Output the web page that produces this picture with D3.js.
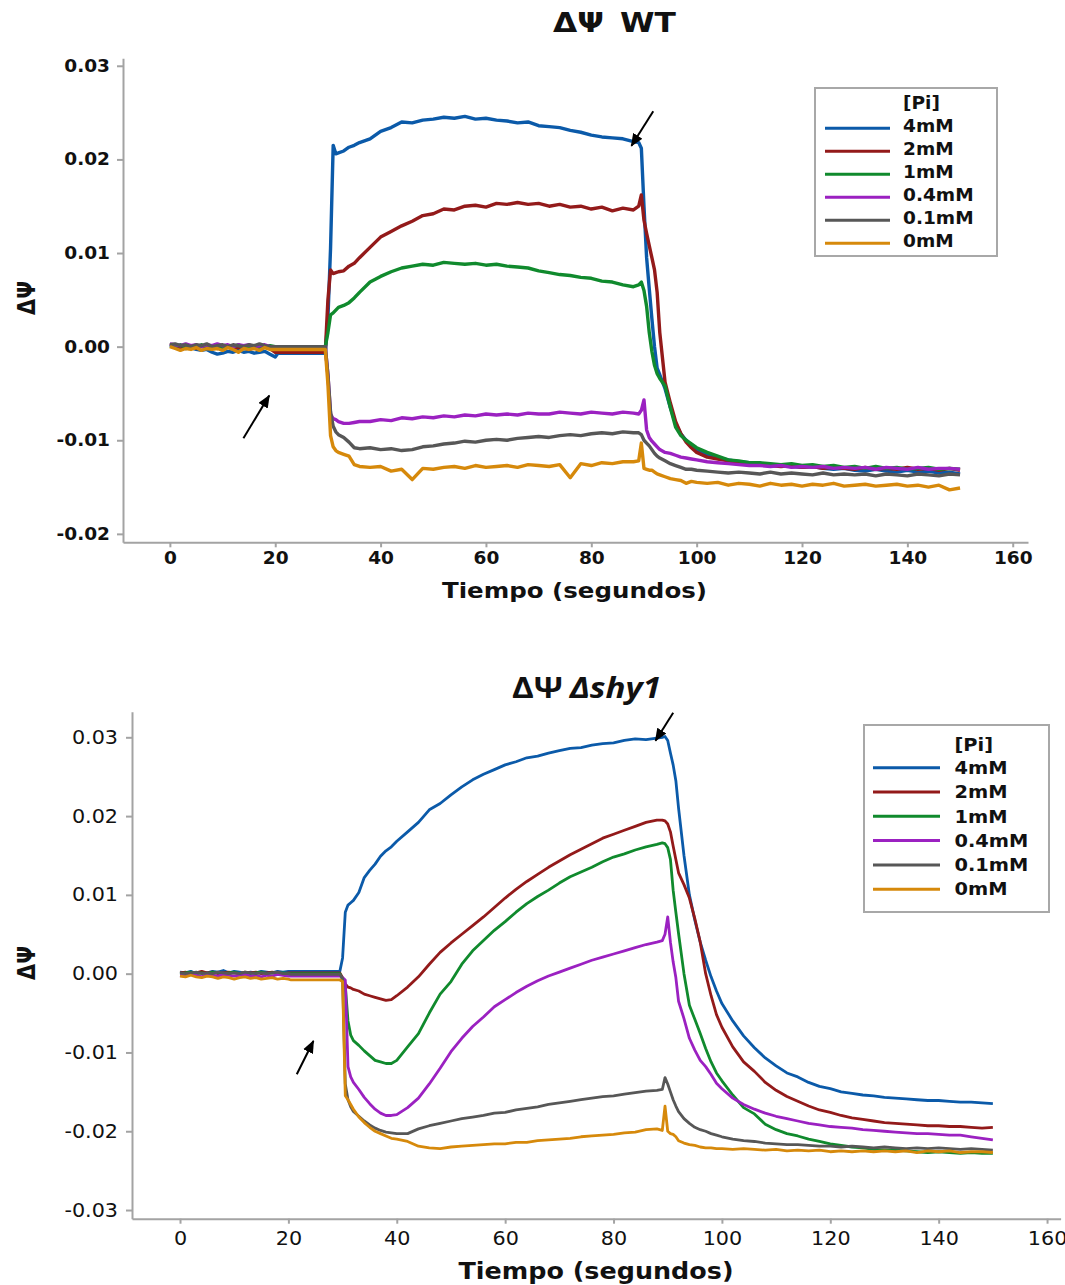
<!DOCTYPE html>
<html lang="es">
<head>
<meta charset="utf-8">
<style>
  body { margin: 0; background: #fff; }
</style>
</head>
<body>
<script src="https://d3js.org/d3.v7.min.js"></script>
<script>
// ---- data ----
var conc = ["4mM", "2mM", "1mM", "0.4mM", "0.1mM", "0mM"];
var colors = ["#0b5aa9", "#931a1a", "#108a2d", "#9b21c1", "#575757", "#d6890b"];
var xTicks = [0, 20, 40, 60, 80, 100, 120, 140, 160];
var yTicksWT = [-0.02, -0.01, 0, 0.01, 0.02, 0.03];
var yTicksShy = [-0.03, -0.02, -0.01, 0, 0.01, 0.02, 0.03];

// WT, time in seconds
var timeWT = [
  0,1,2,3,4,5,6,7,8,9,10,11,12,13,14,15,16,17,18,19,20,
  20.5,
  29.5,30,30.5,31,31.5,32,
  33,34,35,36,
  38,40,42,44,46,48,50,52,54,56,58,60,62,64,66,68,70,72,74,76,78,80,82,84,86,88,
  89,89.5,90,90.5,91,91.5,92,92.5,93,
  94,95,96,97,98,99,100,
  102,104,106,108,110,112,114,116,118,120,122,124,126,128,130,132,134,136,138,140,142,144,146,148,150
];
var wt4 = [
  0.0002,0.0000,-0.0001,-0.0002,-0.0001,-0.0003,-0.0004,-0.0003,-0.0006,-0.0008,-0.0007,-0.0005,-0.0006,-0.0004,-0.0006,-0.0005,-0.0007,-0.0006,-0.0005,-0.0008,-0.0011,
  -0.0007,
  -0.0007,0.0030,0.0105,0.0215,0.0206,0.0207,
  0.0209,0.0213,0.0215,0.0218,
  0.0222,0.0230,0.0234,0.0240,0.0239,0.0242,0.0243,0.0245,0.0244,0.0246,0.0243,0.0244,0.0242,0.0241,0.0239,0.0240,0.0236,0.0235,0.0234,0.0231,0.0229,0.0226,0.0224,0.0223,0.0222,0.0219,
  0.0218,0.0212,0.0150,0.0095,0.0062,0.0030,0.0000,-0.0023,-0.0030,
  -0.0045,-0.0065,-0.0082,-0.0093,-0.0100,-0.0106,-0.0110,
  -0.0116,-0.0119,-0.0121,-0.0123,-0.0124,-0.0126,-0.0127,-0.0127,-0.0128,-0.0129,-0.0128,-0.0130,-0.0131,-0.0130,-0.0132,-0.0133,-0.0131,-0.0133,-0.0134,-0.0132,-0.0134,-0.0133,-0.0135,-0.0134,-0.0136
];
var wt2 = [
  0.0001,0.0002,-0.0001,0.0001,0.0000,-0.0002,0.0001,-0.0001,0.0000,-0.0002,-0.0001,0.0001,-0.0002,-0.0001,0.0000,-0.0003,-0.0001,-0.0002,0.0000,-0.0002,-0.0006,
  -0.0006,
  -0.0006,0.0050,0.0082,0.0078,0.0079,0.0080,
  0.0081,0.0086,0.0089,0.0095,
  0.0106,0.0117,0.0123,0.0129,0.0134,0.0140,0.0142,0.0147,0.0146,0.0150,0.0151,0.0149,0.0153,0.0152,0.0154,0.0152,0.0153,0.0150,0.0152,0.0149,0.0150,0.0147,0.0149,0.0145,0.0148,0.0146,
  0.0150,0.0162,0.0135,0.0121,0.0108,0.0095,0.0082,0.0058,0.0015,
  -0.0038,-0.0060,-0.0080,-0.0093,-0.0102,-0.0108,-0.0113,
  -0.0118,-0.0120,-0.0122,-0.0124,-0.0125,-0.0126,-0.0127,-0.0128,-0.0127,-0.0129,-0.0128,-0.0130,-0.0129,-0.0130,-0.0131,-0.0129,-0.0131,-0.0130,-0.0131,-0.0129,-0.0131,-0.0130,-0.0132,-0.0130,-0.0132
];
var wt1 = [
  0.0001,0.0000,0.0002,-0.0001,0.0001,0.0000,0.0002,-0.0001,0.0001,0.0000,-0.0001,0.0001,0.0000,0.0002,-0.0001,0.0000,0.0001,-0.0001,0.0000,0.0001,0.0000,
  0.0000,
  0.0000,0.0015,0.0034,0.0036,0.0039,0.0042,
  0.0044,0.0047,0.0052,0.0058,
  0.0069,0.0075,0.0080,0.0084,0.0086,0.0088,0.0087,0.0090,0.0089,0.0088,0.0089,0.0087,0.0088,0.0086,0.0085,0.0084,0.0081,0.0079,0.0077,0.0076,0.0074,0.0073,0.0070,0.0069,0.0066,0.0064,
  0.0066,0.0069,0.0060,0.0043,0.0015,-0.0005,-0.0020,-0.0029,-0.0034,
  -0.0042,-0.0065,-0.0086,-0.0095,-0.0100,-0.0104,-0.0108,
  -0.0113,-0.0117,-0.0121,-0.0122,-0.0124,-0.0124,-0.0125,-0.0126,-0.0125,-0.0127,-0.0126,-0.0128,-0.0127,-0.0129,-0.0128,-0.0130,-0.0128,-0.0130,-0.0129,-0.0131,-0.0130,-0.0129,-0.0131,-0.0130,-0.0131
];
var wt04 = [
  0.0003,0.0002,0.0001,0.0003,0.0001,0.0002,0.0000,0.0002,0.0001,0.0003,0.0001,0.0002,0.0000,0.0002,0.0001,0.0002,0.0000,0.0001,0.0002,0.0000,0.0000,
  0.0000,
  0.0000,-0.0030,-0.0072,-0.0077,-0.0078,-0.0080,
  -0.0082,-0.0082,-0.0081,-0.0080,
  -0.0080,-0.0078,-0.0079,-0.0076,-0.0077,-0.0075,-0.0076,-0.0074,-0.0075,-0.0073,-0.0074,-0.0072,-0.0073,-0.0072,-0.0073,-0.0071,-0.0072,-0.0072,-0.0070,-0.0071,-0.0072,-0.0070,-0.0071,-0.0072,-0.0070,-0.0071,
  -0.0072,-0.0068,-0.0057,-0.0089,-0.0097,-0.0101,-0.0104,-0.0107,-0.0110,
  -0.0113,-0.0114,-0.0116,-0.0118,-0.0119,-0.0120,-0.0121,
  -0.0123,-0.0124,-0.0125,-0.0126,-0.0127,-0.0127,-0.0128,-0.0127,-0.0129,-0.0128,-0.0129,-0.0128,-0.0130,-0.0129,-0.0130,-0.0129,-0.0131,-0.0129,-0.0130,-0.0131,-0.0129,-0.0131,-0.0130,-0.0130,-0.0131
];
var wt01 = [
  0.0002,0.0003,0.0001,0.0002,0.0000,0.0002,0.0001,0.0003,0.0000,0.0001,0.0002,0.0000,0.0002,0.0001,0.0000,0.0002,0.0001,0.0003,0.0001,0.0000,0.0000,
  0.0000,
  0.0000,-0.0030,-0.0070,-0.0085,-0.0091,-0.0094,
  -0.0097,-0.0102,-0.0108,-0.0109,
  -0.0108,-0.0110,-0.0109,-0.0111,-0.0110,-0.0107,-0.0106,-0.0104,-0.0103,-0.0101,-0.0102,-0.0100,-0.0099,-0.0100,-0.0098,-0.0097,-0.0096,-0.0097,-0.0095,-0.0094,-0.0095,-0.0093,-0.0092,-0.0093,-0.0091,-0.0092,
  -0.0092,-0.0094,-0.0100,-0.0103,-0.0106,-0.0110,-0.0114,-0.0117,-0.0119,
  -0.0122,-0.0125,-0.0127,-0.0129,-0.0131,-0.0131,-0.0132,
  -0.0133,-0.0134,-0.0135,-0.0134,-0.0135,-0.0136,-0.0134,-0.0136,-0.0135,-0.0136,-0.0137,-0.0135,-0.0137,-0.0136,-0.0137,-0.0136,-0.0138,-0.0136,-0.0137,-0.0138,-0.0136,-0.0137,-0.0138,-0.0136,-0.0137
];
var wt0 = [
  0.0000,-0.0002,-0.0004,-0.0002,-0.0003,-0.0001,-0.0004,-0.0002,-0.0003,-0.0002,-0.0004,-0.0001,-0.0003,-0.0006,-0.0002,-0.0003,-0.0002,-0.0004,-0.0001,-0.0003,-0.0003,
  -0.0003,
  -0.0003,-0.0040,-0.0095,-0.0107,-0.0111,-0.0113,
  -0.0115,-0.0117,-0.0126,-0.0128,
  -0.0129,-0.0128,-0.0133,-0.0131,-0.0142,-0.0130,-0.0131,-0.0129,-0.0128,-0.0130,-0.0127,-0.0129,-0.0128,-0.0127,-0.0129,-0.0126,-0.0127,-0.0128,-0.0126,-0.0140,-0.0125,-0.0127,-0.0124,-0.0125,-0.0123,-0.0123,
  -0.0122,-0.0103,-0.0130,-0.0131,-0.0132,-0.0132,-0.0134,-0.0136,-0.0137,
  -0.0139,-0.0141,-0.0142,-0.0143,-0.0146,-0.0144,-0.0145,
  -0.0146,-0.0145,-0.0148,-0.0146,-0.0147,-0.0149,-0.0146,-0.0148,-0.0147,-0.0149,-0.0147,-0.0148,-0.0146,-0.0149,-0.0148,-0.0147,-0.0149,-0.0148,-0.0147,-0.0149,-0.0148,-0.0150,-0.0148,-0.0153,-0.0151
];

// Δshy1, time in seconds
var timeShy = [
  0,1,2,3,4,5,6,7,8,9,10,11,12,13,14,15,16,17,18,19,20,
  20.5,
  29.5,30,30.5,31,31.5,32,
  33,34,35,36,37,38,39,40,
  42,44,46,48,50,52,54,56,58,60,62,64,66,68,70,72,74,76,78,80,82,84,86,88,
  89,89.5,90,90.5,91,91.5,92,
  93,94,95,96,97,98,99,100,
  102,104,106,108,110,112,114,116,118,120,122,124,126,128,130,132,134,136,138,140,142,144,146,148,150
];
var shy4 = [
  0.0002,0.0001,0.0003,0.0000,0.0002,0.0001,0.0003,0.0002,0.0004,0.0001,0.0003,0.0002,0.0000,0.0002,0.0001,0.0003,0.0002,0.0001,0.0003,0.0002,0.0003,
  0.0003,
  0.0003,0.0020,0.0078,0.0087,0.0090,0.0093,
  0.0103,0.0122,0.0131,0.0139,0.0149,0.0156,0.0161,0.0168,
  0.0180,0.0192,0.0208,0.0216,0.0227,0.0237,0.0246,0.0253,0.0259,0.0265,0.0269,0.0274,0.0276,0.0280,0.0283,0.0286,0.0287,0.0290,0.0292,0.0293,0.0296,0.0298,0.0297,0.0299,
  0.0300,0.0301,0.0296,0.0280,0.0265,0.0245,0.0210,
  0.0150,0.0100,0.0068,0.0040,0.0017,-0.0004,-0.0022,-0.0038,
  -0.0060,-0.0079,-0.0094,-0.0107,-0.0117,-0.0126,-0.0131,-0.0138,-0.0143,-0.0146,-0.0150,-0.0152,-0.0154,-0.0155,-0.0157,-0.0158,-0.0159,-0.0160,-0.0161,-0.0161,-0.0162,-0.0163,-0.0163,-0.0164,-0.0165
];
var shy2 = [
  0.0001,0.0002,0.0000,0.0001,0.0003,0.0001,0.0002,0.0000,0.0001,0.0002,0.0001,0.0000,0.0002,0.0001,0.0002,0.0000,0.0001,0.0002,0.0001,0.0000,0.0001,
  0.0001,
  0.0001,-0.0005,-0.0013,-0.0017,-0.0018,-0.0020,
  -0.0022,-0.0026,-0.0028,-0.0030,-0.0032,-0.0034,-0.0033,-0.0028,
  -0.0017,-0.0004,0.0012,0.0027,0.0039,0.0050,0.0061,0.0072,0.0084,0.0096,0.0107,0.0117,0.0126,0.0135,0.0143,0.0151,0.0158,0.0165,0.0172,0.0177,0.0182,0.0187,0.0192,0.0195,
  0.0195,0.0194,0.0190,0.0180,0.0162,0.0145,0.0128,
  0.0113,0.0096,0.0070,0.0040,0.0000,-0.0028,-0.0052,-0.0068,
  -0.0093,-0.0112,-0.0124,-0.0138,-0.0148,-0.0156,-0.0162,-0.0168,-0.0173,-0.0176,-0.0180,-0.0183,-0.0185,-0.0187,-0.0189,-0.0190,-0.0191,-0.0192,-0.0193,-0.0193,-0.0194,-0.0194,-0.0195,-0.0196,-0.0195
];
var shy1 = [
  0.0000,0.0001,0.0002,0.0000,0.0001,0.0000,0.0002,0.0001,0.0000,0.0001,0.0002,0.0000,0.0001,0.0000,0.0001,0.0002,0.0000,0.0001,0.0000,0.0001,0.0000,
  0.0000,
  0.0000,-0.0008,-0.0015,-0.0060,-0.0078,-0.0085,
  -0.0091,-0.0098,-0.0104,-0.0110,-0.0112,-0.0114,-0.0114,-0.0110,
  -0.0093,-0.0076,-0.0050,-0.0026,-0.0010,0.0012,0.0029,0.0042,0.0055,0.0066,0.0078,0.0089,0.0098,0.0106,0.0115,0.0123,0.0129,0.0135,0.0142,0.0148,0.0152,0.0157,0.0161,0.0164,
  0.0166,0.0165,0.0160,0.0145,0.0106,0.0078,0.0051,
  0.0000,-0.0040,-0.0058,-0.0076,-0.0095,-0.0112,-0.0126,-0.0136,
  -0.0154,-0.0170,-0.0178,-0.0191,-0.0198,-0.0203,-0.0206,-0.0210,-0.0213,-0.0216,-0.0218,-0.0220,-0.0221,-0.0223,-0.0224,-0.0224,-0.0225,-0.0226,-0.0227,-0.0226,-0.0227,-0.0228,-0.0227,-0.0228,-0.0228
];
var shy04 = [
  -0.0002,-0.0003,-0.0001,-0.0002,-0.0004,-0.0001,-0.0002,-0.0003,-0.0001,-0.0002,-0.0003,-0.0002,-0.0001,-0.0003,-0.0002,-0.0004,-0.0002,-0.0003,-0.0001,-0.0002,-0.0003,
  -0.0003,
  -0.0003,-0.0005,-0.0008,-0.0118,-0.0131,-0.0138,
  -0.0147,-0.0157,-0.0165,-0.0172,-0.0177,-0.0180,-0.0180,-0.0179,
  -0.0170,-0.0158,-0.0140,-0.0120,-0.0099,-0.0082,-0.0067,-0.0055,-0.0042,-0.0033,-0.0024,-0.0016,-0.0009,-0.0003,0.0002,0.0007,0.0012,0.0017,0.0021,0.0025,0.0029,0.0033,0.0037,0.0040,
  0.0042,0.0050,0.0072,0.0040,0.0015,-0.0005,-0.0035,
  -0.0057,-0.0082,-0.0097,-0.0110,-0.0118,-0.0128,-0.0139,-0.0146,
  -0.0158,-0.0166,-0.0172,-0.0177,-0.0181,-0.0184,-0.0187,-0.0190,-0.0192,-0.0194,-0.0195,-0.0196,-0.0198,-0.0199,-0.0200,-0.0201,-0.0202,-0.0203,-0.0203,-0.0204,-0.0205,-0.0205,-0.0207,-0.0209,-0.0211
];
var shy01 = [
  0.0001,0.0000,0.0001,0.0002,0.0000,0.0001,0.0000,0.0002,0.0001,0.0000,0.0001,0.0000,0.0002,0.0001,0.0000,0.0001,0.0000,0.0001,0.0002,0.0000,0.0000,
  -0.0001,
  -0.0001,-0.0006,-0.0140,-0.0160,-0.0169,-0.0175,
  -0.0181,-0.0187,-0.0192,-0.0196,-0.0199,-0.0201,-0.0202,-0.0203,
  -0.0203,-0.0197,-0.0193,-0.0190,-0.0187,-0.0184,-0.0182,-0.0180,-0.0177,-0.0176,-0.0173,-0.0171,-0.0169,-0.0166,-0.0164,-0.0162,-0.0160,-0.0158,-0.0156,-0.0155,-0.0153,-0.0151,-0.0149,-0.0148,
  -0.0147,-0.0132,-0.0140,-0.0150,-0.0160,-0.0168,-0.0175,
  -0.0184,-0.0190,-0.0195,-0.0198,-0.0200,-0.0203,-0.0205,-0.0207,
  -0.0210,-0.0212,-0.0213,-0.0215,-0.0216,-0.0217,-0.0217,-0.0218,-0.0219,-0.0219,-0.0220,-0.0219,-0.0220,-0.0221,-0.0220,-0.0221,-0.0222,-0.0221,-0.0222,-0.0221,-0.0222,-0.0223,-0.0222,-0.0223,-0.0224
];
var shy0 = [
  -0.0003,-0.0004,-0.0002,-0.0004,-0.0005,-0.0003,-0.0004,-0.0006,-0.0004,-0.0005,-0.0007,-0.0005,-0.0004,-0.0006,-0.0005,-0.0007,-0.0006,-0.0005,-0.0007,-0.0006,-0.0007,
  -0.0008,
  -0.0008,-0.0010,-0.0155,-0.0160,-0.0166,-0.0172,
  -0.0182,-0.0189,-0.0195,-0.0200,-0.0203,-0.0206,-0.0209,-0.0210,
  -0.0213,-0.0219,-0.0221,-0.0222,-0.0220,-0.0219,-0.0218,-0.0217,-0.0216,-0.0216,-0.0214,-0.0214,-0.0212,-0.0211,-0.0210,-0.0209,-0.0207,-0.0206,-0.0205,-0.0204,-0.0202,-0.0201,-0.0198,-0.0197,
  -0.0199,-0.0168,-0.0200,-0.0203,-0.0204,-0.0207,-0.0212,
  -0.0215,-0.0217,-0.0218,-0.0220,-0.0221,-0.0221,-0.0222,-0.0222,
  -0.0223,-0.0222,-0.0223,-0.0224,-0.0223,-0.0225,-0.0224,-0.0225,-0.0224,-0.0226,-0.0225,-0.0226,-0.0225,-0.0226,-0.0225,-0.0226,-0.0225,-0.0227,-0.0225,-0.0226,-0.0225,-0.0227,-0.0226,-0.0226,-0.0227
];

// annotation arrows [t tail, v tail, t tip, v tip]
var arrowsWT = [[13.96, -0.00978, 18.86, -0.00523], [91.76, 0.02515, 87.62, 0.02145]];
var arrowsShy = [[21.55, -0.01277, 24.62, -0.00854], [91.01, 0.03312, 87.75, 0.02957]];

// ---- drawing ----
var width = 1065, height = 1285;
var axisGray = "#a3a3a3";
var font = "'DejaVu Sans', Verdana, sans-serif";

var svg = d3.select("body").append("svg")
    .attr("width", width)
    .attr("height", height);

svg.append("rect").attr("width", width).attr("height", height).attr("fill", "#fff");

svg.append("defs").append("marker")
    .attr("id", "arrowhead")
    .attr("viewBox", "0 0 12 10")
    .attr("refX", 11)
    .attr("refY", 5)
    .attr("markerUnits", "userSpaceOnUse")
    .attr("markerWidth", 13)
    .attr("markerHeight", 11)
    .attr("orient", "auto")
    .append("path")
    .attr("d", "M0,0 L12,5 L0,10 Z")
    .attr("fill", "#000");

// widen text a little, the original is horizontally stretched
function stretch(sel, k) {
    sel.each(function () {
        var w = this.getComputedTextLength();
        d3.select(this).attr("textLength", w * k).attr("lengthAdjust", "spacingAndGlyphs");
    });
}

function drawPanel(p) {
    var x = d3.scaleLinear().domain(p.xDomain).range(p.xRange);
    var y = d3.scaleLinear().domain(p.yDomain).range(p.yRange);
    var g = svg.append("g");

    var gx = g.append("g")
        .attr("transform", "translate(0," + p.yRange[0] + ")")
        .call(d3.axisBottom(x).tickValues(xTicks).tickFormat(d3.format("d"))
            .tickSizeInner(5).tickSizeOuter(0).tickPadding(p.xPad));
    var gy = g.append("g")
        .attr("transform", "translate(" + p.xRange[0] + ",0)")
        .call(d3.axisLeft(y).tickValues(p.yTicks).tickFormat(function (d) { return d.toFixed(2); })
            .tickSizeInner(6).tickSizeOuter(0).tickPadding(p.yPad));

    [gx, gy].forEach(function (a) {
        a.attr("font-family", font).attr("font-size", p.tickFont).attr("font-weight", p.tickWeight);
        a.select(".domain").attr("stroke", axisGray).attr("stroke-width", 2);
        a.selectAll(".tick line").attr("stroke", axisGray).attr("stroke-width", 2);
        a.selectAll(".tick text").attr("fill", "#111");
        stretch(a.selectAll(".tick text"), 1.09);
    });

    var line = d3.line()
        .x(function (d, i) { return x(p.times[i]); })
        .y(function (d) { return y(d); });

    g.append("g").selectAll("path")
        .data(p.series)
        .enter()
        .append("path")
        .attr("d", line)
        .attr("fill", "none")
        .attr("stroke", function (d, i) { return colors[i]; })
        .attr("stroke-width", p.lineWidth)
        .attr("stroke-linejoin", "round");

    g.append("g").selectAll("line")
        .data(p.arrows)
        .enter()
        .append("line")
        .attr("x1", function (d) { return x(d[0]); })
        .attr("y1", function (d) { return y(d[1]); })
        .attr("x2", function (d) { return x(d[2]); })
        .attr("y2", function (d) { return y(d[3]); })
        .attr("stroke", "#000")
        .attr("stroke-width", 2)
        .attr("marker-end", "url(#arrowhead)");

    // title
    var t = g.append("text")
        .attr("x", p.titleX).attr("y", p.titleY)
        .attr("text-anchor", "middle")
        .attr("font-family", p.titleFont)
        .attr("font-size", p.titleSize)
        .attr("font-weight", "bold")
        .attr("fill", "#111");
    t.append("tspan").text("ΔΨ");
    t.append("tspan").attr("dx", p.titleGap).attr("font-style", p.titleStyle).text(p.titleName);
    t.attr("textLength", p.titleWidth).attr("lengthAdjust", "spacingAndGlyphs");

    // axis titles
    g.append("text")
        .attr("x", p.xLabelX).attr("y", p.xLabelY)
        .attr("text-anchor", "middle")
        .attr("font-family", font)
        .attr("font-size", p.xLabelSize)
        .attr("font-weight", "bold")
        .attr("fill", "#111")
        .attr("textLength", p.xLabelWidth)
        .attr("lengthAdjust", "spacingAndGlyphs")
        .text("Tiempo (segundos)");

    g.append("text")
        .attr("transform", "translate(" + p.yLabelX + "," + p.yLabelY + ") rotate(-90)")
        .attr("text-anchor", "middle")
        .attr("font-family", font)
        .attr("font-size", 25)
        .attr("font-weight", "bold")
        .attr("fill", "#111")
        .attr("textLength", 34)
        .attr("lengthAdjust", "spacingAndGlyphs")
        .text("ΔΨ");

    // legend
    var L = p.legend;
    var lg = g.append("g");
    lg.append("rect")
        .attr("x", L.x).attr("y", L.y).attr("width", L.w).attr("height", L.h)
        .attr("fill", "#fff").attr("stroke", "#a8a8a8").attr("stroke-width", 2);
    var lt = lg.append("text")
        .attr("x", L.textX).attr("y", L.titleY)
        .attr("font-family", font).attr("font-size", 17).attr("font-weight", "bold")
        .attr("fill", "#111").text("[Pi]");
    stretch(lt, L.k);
    conc.forEach(function (c, i) {
        var yy = L.firstY + i * L.step;
        lg.append("line")
            .attr("x1", L.lineX1).attr("x2", L.lineX2)
            .attr("y1", yy).attr("y2", yy)
            .attr("stroke", colors[i]).attr("stroke-width", 3);
        var tx = lg.append("text")
            .attr("x", L.textX).attr("y", yy + L.textDy)
            .attr("font-family", font).attr("font-size", 17).attr("font-weight", "bold")
            .attr("fill", "#111").text(c);
        stretch(tx, L.k);
    });
}

drawPanel({
    times: timeWT,
    series: [wt4, wt2, wt1, wt04, wt01, wt0],
    arrows: arrowsWT,
    xDomain: [-8.9, 162.9], xRange: [123, 1028],
    yDomain: [-0.0209, 0.0308], yRange: [542.3, 58.3],
    yTicks: yTicksWT,
    xPad: 5, yPad: 7,
    tickFont: 17, tickWeight: "bold",
    lineWidth: 3.4,
    titleX: 614.5, titleY: 32, titleSize: 27, titleFont: font,
    titleGap: 14, titleStyle: "normal", titleName: "WT", titleWidth: 123,
    xLabelX: 574.5, xLabelY: 598, xLabelSize: 22, xLabelWidth: 265,
    yLabelX: 35, yLabelY: 298,
    legend: { x: 815, y: 88, w: 182, h: 168, textX: 903, titleY: 109,
              firstY: 128.3, step: 23, lineX1: 825, lineX2: 890, textDy: 3.5, k: 1.09 }
});

drawPanel({
    times: timeShy,
    series: [shy4, shy2, shy1, shy04, shy01, shy0],
    arrows: arrowsShy,
    xDomain: [-8.86, 162.5], xRange: [132, 1060.6],
    yDomain: [-0.0311, 0.03325], yRange: [1218.7, 711.7],
    yTicks: yTicksShy,
    xPad: 8, yPad: 8,
    tickFont: 19, tickWeight: "normal",
    lineWidth: 2.8,
    titleX: 586.5, titleY: 698, titleSize: 29, titleFont: "'Open Sans', 'Noto Sans', sans-serif",
    titleGap: 6, titleStyle: "italic", titleName: "Δshy1", titleWidth: 149,
    xLabelX: 596, xLabelY: 1279, xLabelSize: 23, xLabelWidth: 275,
    yLabelX: 35, yLabelY: 963,
    legend: { x: 864, y: 725, w: 185, h: 187, textX: 954.5, titleY: 751,
              firstY: 767.7, step: 24.3, lineX1: 873, lineX2: 940, textDy: 6.2, k: 1.14 }
});
</script>
</body>
</html>
